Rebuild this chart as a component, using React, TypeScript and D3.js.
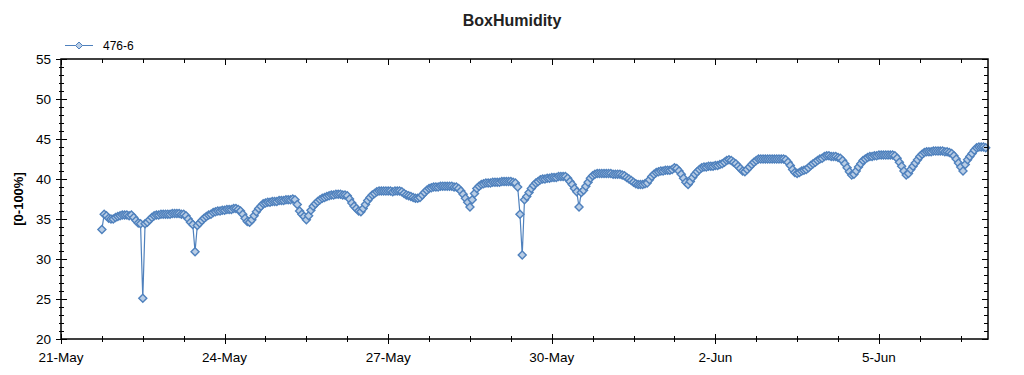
import React from 'react';
import * as d3 from 'd3';

// Hourly BoxHumidity readings of sensor 476-6 (% RH), one array per day
const day21May = [33.7, 35.6, 35.4, 35.1, 35.0, 35.0]; // starts 18:00
const day22May = [35.2,35.3,35.4,35.5,35.5,35.5,35.4,35.5,35.2,34.8,34.5,34.4,25.1,34.4,34.6,34.9,35.2,35.4,35.5,35.5,35.6,35.6,35.6,35.6];
const day23May = [35.6,35.7,35.7,35.7,35.7,35.6,35.6,35.4,35.0,34.6,34.3,30.9,34.2,34.5,34.8,35.1,35.3,35.5,35.6,35.8,35.9,36.0,36.0,36.1];
const day24May = [36.1,36.2,36.2,36.2,36.3,36.3,36.2,36.0,35.6,35.1,34.7,34.6,34.9,35.4,35.9,36.3,36.6,36.9,37.0,37.1,37.1,37.2,37.2,37.2];
const day25May = [37.3,37.3,37.3,37.4,37.4,37.4,37.5,37.4,36.8,36.0,35.6,35.3,34.9,35.4,36.1,36.6,36.9,37.2,37.4,37.6,37.7,37.8,37.9,38.0];
const day26May = [38.0,38.1,38.1,38.1,38.0,38.0,37.9,37.5,37.0,36.6,36.3,36.0,35.9,36.3,36.8,37.3,37.7,38.0,38.2,38.4,38.5,38.5,38.5,38.5];
const day27May = [38.5,38.5,38.4,38.5,38.5,38.5,38.4,38.2,38.0,37.9,37.8,37.7,37.6,37.6,37.7,38.0,38.3,38.6,38.8,38.9,39.0,39.0,39.0,39.1];
const day28May = [39.1,39.1,39.1,39.1,39.1,39.0,39.0,38.8,38.5,38.1,37.6,37.1,36.5,37.4,38.2,38.8,39.1,39.3,39.4,39.5,39.5,39.5,39.6,39.6];
const day29May = [39.6,39.6,39.7,39.7,39.7,39.7,39.7,39.6,39.5,39.0,35.6,30.5,37.4,37.8,38.3,38.8,39.2,39.5,39.7,39.9,40.0,40.0,40.1,40.1];
const day30May = [40.2,40.2,40.2,40.3,40.3,40.3,40.3,40.1,39.7,39.3,38.8,38.4,36.5,38.3,38.6,39.1,39.6,40.1,40.4,40.6,40.7,40.7,40.7,40.7];
const day31May = [40.7,40.7,40.7,40.6,40.6,40.6,40.6,40.5,40.4,40.2,40.0,39.8,39.6,39.4,39.3,39.3,39.3,39.4,39.5,39.9,40.3,40.6,40.8,40.9];
const day1Jun = [41.0,41.0,41.1,41.1,41.1,41.2,41.4,41.3,41.0,40.6,40.1,39.6,39.3,39.7,40.2,40.6,40.9,41.2,41.4,41.5,41.5,41.6,41.6,41.6];
const day2Jun = [41.7,41.7,41.8,41.9,42.1,42.3,42.4,42.3,42.1,41.9,41.6,41.3,41.0,40.9,41.2,41.5,41.8,42.1,42.3,42.5,42.5,42.5,42.5,42.5];
const day3Jun = [42.5,42.5,42.5,42.5,42.5,42.5,42.5,42.4,42.1,41.7,41.2,40.8,40.7,40.8,41.0,41.1,41.2,41.4,41.7,41.9,42.1,42.3,42.5,42.6];
const day4Jun = [42.8,42.9,42.9,42.8,42.8,42.8,42.7,42.6,42.3,41.9,41.4,40.9,40.5,40.6,41.0,41.5,41.9,42.3,42.5,42.7,42.8,42.8,42.9,42.9];
const day5Jun = [43.0,43.0,43.0,43.0,43.0,43.0,43.0,42.9,42.6,42.1,41.6,41.0,40.5,40.7,41.2,41.6,42.0,42.4,42.8,43.1,43.3,43.4,43.4,43.4];
const day6Jun = [43.5,43.5,43.5,43.5,43.5,43.4,43.4,43.3,43.2,42.9,42.5,42.0,41.5,41.0,41.8,42.4,42.8,43.2,43.6,43.9,44.0,44.0,44.0,43.9];

const dayArrays = [
  { month: 4, day: 21, firstHour: 18, values: day21May },
  { month: 4, day: 22, firstHour: 0, values: day22May },
  { month: 4, day: 23, firstHour: 0, values: day23May },
  { month: 4, day: 24, firstHour: 0, values: day24May },
  { month: 4, day: 25, firstHour: 0, values: day25May },
  { month: 4, day: 26, firstHour: 0, values: day26May },
  { month: 4, day: 27, firstHour: 0, values: day27May },
  { month: 4, day: 28, firstHour: 0, values: day28May },
  { month: 4, day: 29, firstHour: 0, values: day29May },
  { month: 4, day: 30, firstHour: 0, values: day30May },
  { month: 4, day: 31, firstHour: 0, values: day31May },
  { month: 5, day: 1, firstHour: 0, values: day1Jun },
  { month: 5, day: 2, firstHour: 0, values: day2Jun },
  { month: 5, day: 3, firstHour: 0, values: day3Jun },
  { month: 5, day: 4, firstHour: 0, values: day4Jun },
  { month: 5, day: 5, firstHour: 0, values: day5Jun },
  { month: 5, day: 6, firstHour: 0, values: day6Jun },
];

const YEAR = 2013;
const seriesName = '476-6';
const chartTitle = 'BoxHumidity';
const yAxisTitle = '[0-100%]';
const yTicks = [20, 25, 30, 35, 40, 45, 50, 55];
const yMinorTicks = d3.range(20, 56, 1);

const COLOR = '#4f81bd';
const FILL = '#b9cde5';
const FONT = '"Liberation Sans", Arial, sans-serif';

type Pt = { t: Date; v: number };
const points: Pt[] = dayArrays.flatMap((d) =>
  d.values.map((v, i) => ({ t: new Date(YEAR, d.month, d.day, d.firstHour + i), v }))
);

const start = new Date(YEAR, 4, 21);
const end = new Date(YEAR, 5, 7);

const L = 61, R = 988, T = 59, B = 339;

export default function App() {
  const x = d3.scaleTime().domain([start, end]).range([L, R]);
  const y = d3.scaleLinear().domain([20, 55]).range([B, T]);
  const majorX = d3.range(0, 17, 3).map((d) => d3.timeDay.offset(start, d));
  const minorX = d3.range(0, 17 * 24 + 1, 18).map((h) => d3.timeHour.offset(start, h));
  const fmt = d3.timeFormat('%-d-%b');
  const line = d3.line<Pt>().x((d) => x(d.t)).y((d) => y(d.v));
  const diamond = (cx: number, cy: number, r = 4) =>
    `M${cx},${cy - r}L${cx + r},${cy}L${cx},${cy + r}L${cx - r},${cy}Z`;

  return (
    <svg width={1024} height={375} style={{ position: 'absolute', left: 0, top: 0, background: '#fff' }} fontFamily={FONT}>
      <rect x={0} y={0} width={1024} height={375} fill="#fff" />
      <text x={512} y={26} textAnchor="middle" fontWeight="bold" fontSize={16} fill="#222">{chartTitle}</text>
      {/* legend */}
      <line x1={65} x2={93} y1={45.5} y2={45.5} stroke={COLOR} strokeWidth={1} />
      <path d={diamond(79, 45.5, 3.5)} fill={FILL} stroke={COLOR} strokeWidth={1} />
      <text x={103} y={50} fontSize={12} fill="#000">{seriesName}</text>
      {/* y title */}
      <text transform={`translate(23,${(T + B) / 2}) rotate(-90)`} textAnchor="middle" fontWeight="bold" fontSize={13} fill="#000">{yAxisTitle}</text>

      {/* series */}
      <path d={line(points) || ''} fill="none" stroke={COLOR} strokeWidth={1.2} />
      {points.map((p, i) => (
        <path key={i} d={diamond(x(p.t), y(p.v))} fill={FILL} stroke={COLOR} strokeWidth={1.4} />
      ))}

      {/* frame */}
      <rect x={L} y={T} width={R - L} height={B - T} fill="none" stroke="#000" strokeWidth={1.5} />

      {/* left axis ticks */}
      {yMinorTicks.map((v) => (
        <line key={'ym' + v} x1={59} x2={64} y1={Math.round(y(v)) + 0.5} y2={Math.round(y(v)) + 0.5} stroke="#000" />
      ))}
      {yTicks.map((v) => (
        <g key={'y' + v}>
          <line x1={56} x2={67} y1={Math.round(y(v)) + 0.5} y2={Math.round(y(v)) + 0.5} stroke="#000" />
          <text x={51} y={y(v) + 4.5} textAnchor="end" fontSize={13.5} fill="#000">{v}</text>
        </g>
      ))}
      {/* right axis ticks */}
      {yMinorTicks.map((v) => (
        <line key={'yr' + v} x1={yTicks.includes(v) ? 982 : 984} x2={R} y1={Math.round(y(v)) + 0.5} y2={Math.round(y(v)) + 0.5} stroke="#000" />
      ))}
      {/* bottom + top ticks */}
      {minorX.map((t, i) => {
        const xx = Math.round(x(t)) + 0.5;
        const major = i % 4 === 0;
        return (
          <g key={'x' + i}>
            <line x1={xx} x2={xx} y1={major ? 334 : 336} y2={major ? 344 : 342} stroke="#000" />
            <line x1={xx} x2={xx} y1={T} y2={major ? T + 6 : T + 4} stroke="#000" />
          </g>
        );
      })}
      {majorX.map((t, i) => (
        <text key={'xl' + i} x={x(t)} y={362} textAnchor="middle" fontSize={13.5} fill="#000">{fmt(t)}</text>
      ))}
    </svg>
  );
}
